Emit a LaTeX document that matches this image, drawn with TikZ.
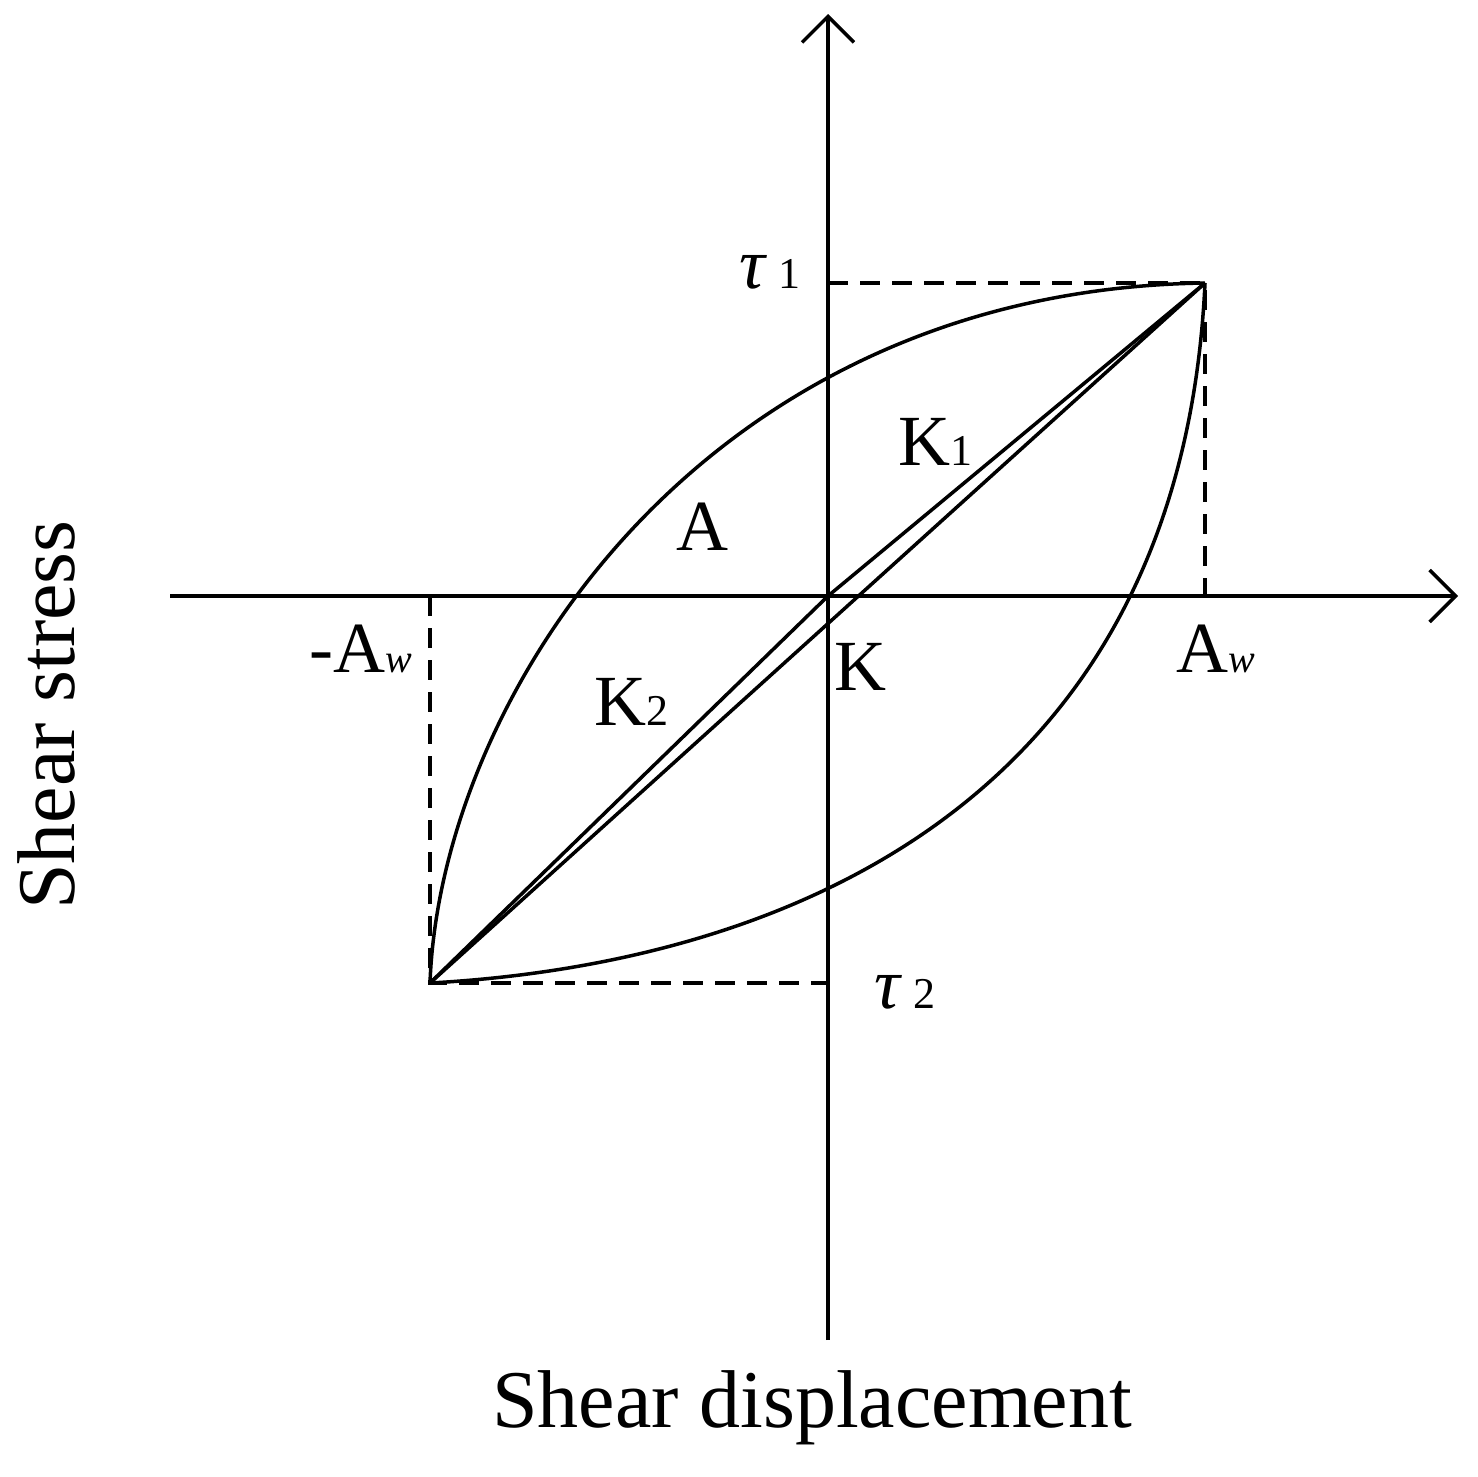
\documentclass[tikz,border=0pt]{standalone}
\usepackage{fontspec}
\setmainfont{Liberation Serif}
\usetikzlibrary{arrows.meta}
\begin{document}
\begin{tikzpicture}[x=1pt,y=-1pt,line width=3.5pt,
  ax/.style={-{Straight Barb[length=26pt,width=52pt,line width=3.5pt]}},
  dsh/.style={dash pattern=on 20pt off 12pt},
  lbl/.style={inner sep=0pt,font=\fontsize{72}{80}\selectfont},
  big/.style={inner sep=0pt,font=\fontsize{82}{90}\selectfont}]
\useasboundingbox (0,0) rectangle (1478,1476);
\coordinate (O) at (828,596);
\coordinate (P) at (1205,283);
\coordinate (Q) at (430,983);
\coordinate (t1) at (828,283);
\coordinate (t2) at (828,983);
\coordinate (aw) at (1205,596);
\coordinate (maw) at (430,596);
\coordinate (xb) at (170,596);
\coordinate (xe) at (1458,596);
\coordinate (yb) at (828,1340);
\coordinate (ye) at (828,14);
\draw[ax] (xb) -- (xe);
\draw[ax] (yb) -- (ye);
\draw[dsh] (t1) -- (P) -- (aw);
\draw[dsh] (maw) -- (Q) -- (t2);
\draw (Q) .. controls (440,700) and (700,290) .. (P);
\draw (Q) .. controls (760,965) and (1180,820) .. (P);
\draw (Q) -- (P);
\draw (Q) -- (O) -- (P);
\node[lbl] (T1) at (770,272) {\textit{τ}\,\fontsize{44}{50}\selectfont 1};
\node[lbl] (T2) at (905,992) {\textit{τ}\,\fontsize{44}{50}\selectfont 2};
\node[lbl,anchor=base west] (K1) at (897,465) {K\fontsize{44}{50}\selectfont 1};
\node[lbl,anchor=base west] (K2) at (593,725) {K\fontsize{44}{50}\selectfont 2};
\node[lbl,anchor=base west] (A) at (675,550) {A};
\node[lbl,anchor=base west] (K) at (833,690) {K};
\node[lbl,anchor=base east] (MAw) at (414,672) {-A\fontsize{40}{50}\selectfont\textit{w}};
\node[lbl,anchor=base west] (Aw) at (1175,672) {A\fontsize{40}{50}\selectfont\textit{w}};
\node[big] (xl) at (812,1408) {Shear displacement};
\node[big,rotate=90] (yl) at (46,715) {Shear stress};
\end{tikzpicture}
\end{document}
